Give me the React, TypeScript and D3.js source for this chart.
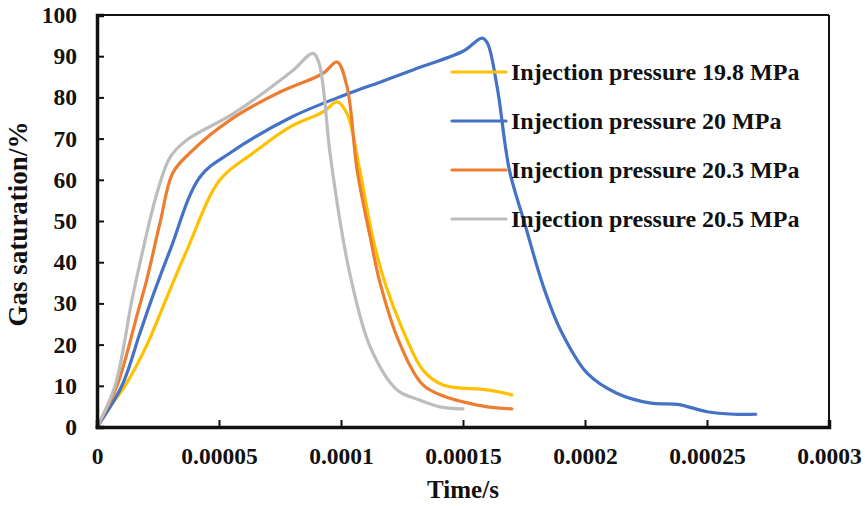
import React, { useEffect, useRef } from "react";
import * as d3 from "d3";

// time in seconds, gas saturation in %
const time198 = [0, 0.53e-5, 1.15e-5, 2.05e-5, 2.83e-5, 3.69e-5, 5.04e-5, 6.4e-5, 7.9e-5, 9.0e-5, 9.35e-5, 9.84e-5, 1.025e-4, 1.078e-4, 1.13e-4, 1.18e-4, 1.25e-4, 1.336e-4, 1.418e-4, 1.6e-4, 1.7e-4];
const sat198 = [0, 4.9, 10, 20, 31, 43, 60, 66.5, 72.8, 75.7, 76.8, 78.9, 76, 62, 46, 35, 24, 13.8, 10.2, 9, 7.8];

const time20 = [0, 1.02e-5, 1.76e-5, 2.3e-5, 3.0e-5, 4.22e-5, 5.45e-5, 8.0e-5, 1.025e-4, 1.16e-4, 1.3e-4, 1.5e-4, 1.578e-4, 1.6e-4, 1.64e-4, 1.69e-4, 1.75e-4, 1.83e-4, 1.9e-4, 2.01e-4, 2.13e-4, 2.27e-4, 2.38e-4, 2.5e-4, 2.61e-4, 2.7e-4];
const sat20 = [0, 10, 22.8, 32, 43, 60.7, 66.5, 75.3, 80.8, 83.7, 86.8, 91.2, 94.4, 93.2, 82.5, 62.4, 50, 34, 23.5, 13, 8.2, 5.8, 5.5, 3.7, 3.1, 3.1];

const time203 = [0, 0.82e-5, 1.68e-5, 2.05e-5, 2.6e-5, 3.1e-5, 3.8e-5, 5.45e-5, 7.5e-5, 9.0e-5, 9.35e-5, 9.84e-5, 1.025e-4, 1.066e-4, 1.12e-4, 1.16e-4, 1.24e-4, 1.336e-4, 1.42e-4, 1.5e-4, 1.6e-4, 1.7e-4];
const sat203 = [0, 10, 28, 36, 50, 61.6, 66.5, 74.5, 81.3, 85, 86.2, 88.6, 82.5, 62.4, 46, 35, 20.4, 10.2, 7.5, 6.1, 4.9, 4.4];

const time205 = [0, 0.74e-5, 1.43e-5, 1.76e-5, 2.46e-5, 3.0e-5, 3.69e-5, 5.57e-5, 8.0e-5, 8.85e-5, 9.1e-5, 9.55e-5, 9.96e-5, 1.037e-4, 1.12e-4, 1.23e-4, 1.32e-4, 1.406e-4, 1.5e-4];
const sat205 = [0, 10, 30.8, 39.8, 56.8, 65.5, 69.7, 76, 86.4, 90.7, 88.3, 66.5, 50, 37, 19.4, 9, 6.6, 4.9, 4.4];

const seriesNames = [
  "Injection pressure 19.8 MPa",
  "Injection pressure 20 MPa",
  "Injection pressure 20.3 MPa",
  "Injection pressure 20.5 MPa",
];
const seriesColors = ["#FFC000", "#4472C4", "#ED7D31", "#BDBDBD"];
const seriesTimes = [time198, time20, time203, time205];
const seriesSats = [sat198, sat20, sat203, sat205];

const xTicks = [0, 0.00005, 0.0001, 0.00015, 0.0002, 0.00025, 0.0003];
const xTickLabels = ["0", "0.00005", "0.0001", "0.00015", "0.0002", "0.00025", "0.0003"];
const yTicks = [0, 10, 20, 30, 40, 50, 60, 70, 80, 90, 100];

const W = 865;
const H = 506;
const FONT = '"Liberation Serif", "Times New Roman", serif';

export default function App() {
  const ref = useRef<SVGSVGElement>(null);

  useEffect(() => {
    const svg = d3.select(ref.current);
    svg.selectAll("*").remove();

    const left = 97, right = 829, top = 15, bottom = 427;
    const x = d3.scaleLinear().domain([0, 0.0003]).range([left, right]);
    const y = d3.scaleLinear().domain([0, 100]).range([bottom, top]);

    svg.append("rect").attr("width", W).attr("height", H).attr("fill", "#fff");

    // thin frame on top and right
    svg.append("line").attr("x1", left).attr("x2", right).attr("y1", top).attr("y2", top)
      .attr("stroke", "#111").attr("stroke-width", 2);
    svg.append("line").attr("x1", right).attr("x2", right).attr("y1", top).attr("y2", bottom)
      .attr("stroke", "#111").attr("stroke-width", 2);

    const line = d3
      .line<[number, number]>()
      .x((d) => x(d[0]))
      .y((d) => y(d[1]))
      .curve(d3.curveCatmullRom.alpha(0.5));

    seriesTimes.forEach((ts, i) => {
      const pts = ts.map((t, j) => [t, seriesSats[i][j]] as [number, number]);
      svg.append("path")
        .attr("d", line(pts))
        .attr("fill", "none")
        .attr("stroke", seriesColors[i])
        .attr("stroke-width", 3.2)
        .attr("stroke-linecap", "round")
        .attr("stroke-linejoin", "round");
    });

    // axes
    const xAxis = svg.append("g").attr("transform", `translate(0,${bottom})`)
      .call(d3.axisBottom(x).tickValues(xTicks).tickSize(-7).tickPadding(20)
        .tickFormat((_, i) => xTickLabels[i]));
    const yAxis = svg.append("g").attr("transform", `translate(${left},0)`)
      .call(d3.axisLeft(y).tickValues(yTicks).tickSize(-7).tickPadding(20));
    [xAxis, yAxis].forEach((ax) => {
      ax.select(".domain").attr("stroke", "#111").attr("stroke-width", 3.5);
      ax.selectAll(".tick line").attr("stroke", "#111").attr("stroke-width", 2);
      ax.selectAll("text")
        .style("font-family", FONT)
        .style("font-size", "23.5px")
        .style("font-weight", "bold")
        .attr("fill", "#111");
    });

    // axis titles
    svg.append("text")
      .attr("x", (left + right) / 2)
      .attr("y", 498)
      .attr("text-anchor", "middle")
      .style("font-family", FONT).style("font-size", "25px").style("font-weight", "bold")
      .attr("fill", "#111")
      .text("Time/s");
    svg.append("text")
      .attr("transform", `translate(27,224) rotate(-90)`)
      .attr("text-anchor", "middle")
      .style("font-family", FONT).style("font-size", "27px").style("font-weight", "bold")
      .attr("fill", "#111")
      .text("Gas saturation/%");

    // legend
    const legend = svg.append("g");
    seriesNames.forEach((name, i) => {
      const ly = 72 + i * 49;
      legend.append("line").attr("x1", 452).attr("x2", 506).attr("y1", ly).attr("y2", ly)
        .attr("stroke", seriesColors[i]).attr("stroke-width", 3.2).attr("stroke-linecap", "round");
      legend.append("text")
        .attr("x", 511).attr("y", ly + 7.5)
        .style("font-family", FONT).style("font-size", "24px").style("font-weight", "bold")
        .attr("fill", "#111")
        .text(name);
    });
  }, []);

  return (
    <svg
      ref={ref}
      width={W}
      height={H}
      style={{ position: "absolute", left: 0, top: 0, background: "#fff" }}
    />
  );
}
